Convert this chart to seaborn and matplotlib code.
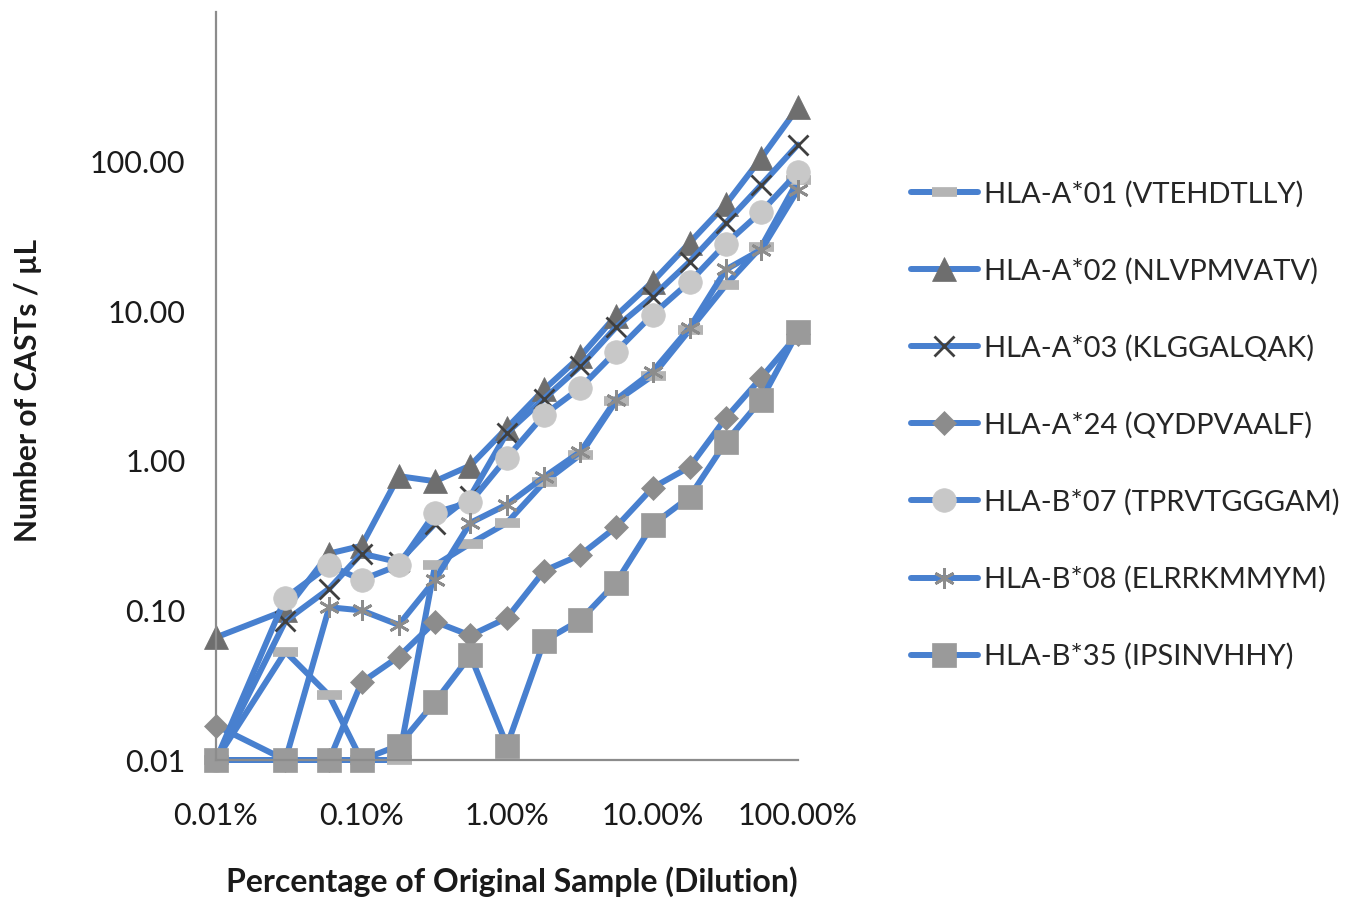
import numpy as np
import pandas as pd
import matplotlib
matplotlib.use("Agg")
import matplotlib.pyplot as plt
from matplotlib.ticker import FixedLocator, NullLocator
import seaborn as sns

# dilution (% of original sample)
dilution = [0.01, 0.03, 0.06, 0.1, 0.18, 0.32, 0.56, 1, 1.8, 3.2, 5.6, 10, 18, 32, 56, 100]

a01 = [0.01, 0.053, 0.027, 0.01, 0.01, 0.20, 0.28, 0.385, 0.72, 1.1, 2.5, 3.7, 7.5, 15, 27, 75]
a02 = [0.066, 0.10, 0.24, 0.27, 0.79, 0.73, 0.93, 1.66, 3.0, 5.0, 9.3, 15.7, 28.7, 52, 106, 230]
a03 = [0.01, 0.085, 0.14, 0.24, 0.21, 0.38, 0.58, 1.54, 2.6, 4.3, 7.8, 12.5, 21.4, 39, 70, 130]
a24 = [0.017, 0.01, 0.01, 0.033, 0.049, 0.084, 0.068, 0.089, 0.184, 0.235, 0.36, 0.66, 0.91, 1.94, 3.6, 7.0]
b07 = [0.01, 0.121, 0.20, 0.16, 0.20, 0.45, 0.53, 1.05, 2.03, 3.08, 5.36, 9.48, 15.7, 28.3, 46.3, 85]
b08 = [0.01, 0.01, 0.105, 0.10, 0.08, 0.16, 0.385, 0.51, 0.78, 1.15, 2.56, 3.94, 7.76, 19, 25.8, 65]
b35 = [0.01, 0.01, 0.01, 0.01, 0.0125, 0.0245, 0.050, 0.0125, 0.0625, 0.0864, 0.153, 0.373, 0.574, 1.34, 2.56, 7.3]

labels = ["HLA-A*01 (VTEHDTLLY)", "HLA-A*02 (NLVPMVATV)", "HLA-A*03 (KLGGALQAK)",
          "HLA-A*24 (QYDPVAALF)", "HLA-B*07 (TPRVTGGGAM)", "HLA-B*08 (ELRRKMMYM)",
          "HLA-B*35 (IPSINVHHY)"]
series = [a01, a02, a03, a24, b07, b08, b35]

x_ticks = [0.01, 0.1, 1, 10, 100]
x_ticklabels = ["0.01%", "0.10%", "1.00%", "10.00%", "100.00%"]
y_ticks = [0.01, 0.1, 1, 10, 100]
y_ticklabels = ["0.01", "0.10", "1.00", "10.00", "100.00"]

blue = "#4880cf"
# marker, size, face colour, edge width
styles = [("_", 18, "#b4b4b4", 7),
          ("^", 17, "#6e6e6e", 0.5),
          ("x", 14, "#404040", 2),
          ("D", 12, "#8c8c8c", 0.5),
          ("o", 17, "#c8c8c8", 0.5),
          ((6, 2, 0), 15, "#8c8c8c", 2),
          ("s", 17, "#9a9a9a", 0.5)]

sns.set_style("white")
plt.rcParams["font.family"] = ["Lato", "DejaVu Sans"]

fig = plt.figure(figsize=(13.67, 8.99), dpi=100)
ax = fig.add_axes([216 / 1367, 1 - 760 / 899, (798 - 216) / 1367, (760 - 12) / 899])

for lab, vals, (mk, ms, fc, mew) in zip(labels, series, styles):
    df = pd.DataFrame({"dilution": dilution, "casts": vals})
    sns.lineplot(data=df, x="dilution", y="casts", ax=ax, color=blue, linewidth=4.3,
                 marker=mk, markersize=ms, markerfacecolor=fc, markeredgecolor=fc,
                 markeredgewidth=mew, label=lab, legend=False, clip_on=False, sort=False)

ax.set_xscale("log")
ax.set_yscale("log")
ax.set_xlim(0.01, 100)
ax.set_ylim(0.01, 1000)
ax.xaxis.set_major_locator(FixedLocator(x_ticks))
ax.yaxis.set_major_locator(FixedLocator(y_ticks))
ax.xaxis.set_minor_locator(NullLocator())
ax.yaxis.set_minor_locator(NullLocator())
ax.set_xticklabels(x_ticklabels)
ax.set_yticklabels(y_ticklabels)

for side in ["top", "right"]:
    ax.spines[side].set_visible(False)
for side in ["left", "bottom"]:
    ax.spines[side].set_color("#8c8c8c")
    ax.spines[side].set_linewidth(1.6)
ax.tick_params(axis="both", which="major", direction="out", length=6, width=1.6,
               color="#8c8c8c", labelsize=22, labelcolor="#1a1a1a")
ax.tick_params(axis="x", pad=24)
ax.tick_params(axis="y", pad=16)
ax.grid(False)

ax.set_xlabel("")
ax.set_ylabel("")
fig.text(512 / 1367, 1 - 882 / 899, "Percentage of Original Sample (Dilution)",
         ha="center", va="center", fontsize=23, fontweight="bold", color="#1a1a1a")
fig.text(28 / 1367, 1 - 390 / 899, "Number of CASTs / µL", rotation=90,
         ha="center", va="center", fontsize=21.5, fontweight="bold", color="#1a1a1a")

handles, labs = ax.get_legend_handles_labels()
fig.legend(handles, labs, loc="upper left", bbox_to_anchor=(899 / 1367, 1 - 169 / 899),
           frameon=False, fontsize=21, handlelength=2.3, handletextpad=0.2,
           labelspacing=1.72, borderaxespad=0)

fig.savefig("out.png", dpi=100, facecolor="white")
